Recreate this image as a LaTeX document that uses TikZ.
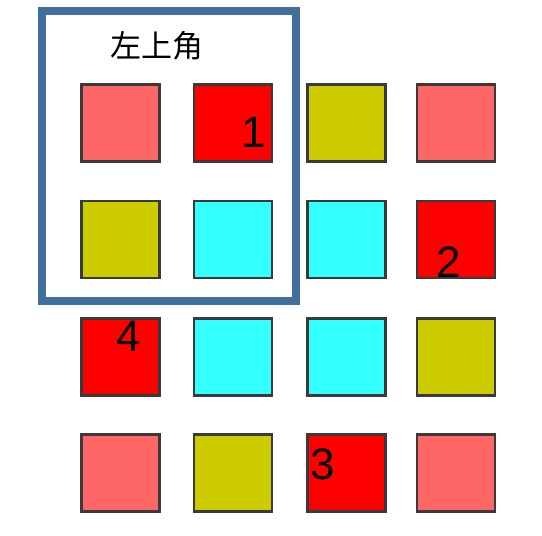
\documentclass[tikz,border=0pt]{standalone}
\usepackage{fontspec}
\setmainfont{Liberation Sans}
\newfontfamily\cjk{Noto Sans CJK SC}
\definecolor{lred}{HTML}{FF6666}
\definecolor{fred}{HTML}{FF0000}
\definecolor{olive2}{HTML}{CCCC00}
\definecolor{cyan2}{HTML}{33FFFF}
\definecolor{frameblue}{HTML}{41709C}
\definecolor{edgegray}{HTML}{3A3A3A}
\begin{document}
\begin{tikzpicture}[x=1pt,y=-1pt,
  sq/.style={draw=edgegray,line width=2.6pt,minimum width=78pt,minimum height=77pt,inner sep=0pt,outer sep=0pt},
  num/.style={inner sep=0pt,font=\fontsize{44}{48}\selectfont},
]
\useasboundingbox (0,0) rectangle (542,536);
\fill[white] (0,0) rectangle (542,536);
% frame
\draw[frameblue,line width=8pt] (42,11) rectangle (296,301);
\node (title) at (157,46) {\cjk\fontsize{31}{34}\selectfont 左上角};
% row 1
\node[sq,fill=lred]   (s11) at (120.5,123) {};
\node[sq,fill=fred]   (s12) at (233,123) {};
\node[sq,fill=olive2] (s13) at (346.5,123) {};
\node[sq,fill=lred]   (s14) at (456,123) {};
% row 2
\node[sq,fill=olive2] (s21) at (120.5,239.5) {};
\node[sq,fill=cyan2]  (s22) at (233,239.5) {};
\node[sq,fill=cyan2]  (s23) at (346.5,239.5) {};
\node[sq,fill=fred]   (s24) at (456,239.5) {};
% row 3
\node[sq,fill=fred]   (s31) at (120.5,357) {};
\node[sq,fill=cyan2]  (s32) at (233,357) {};
\node[sq,fill=cyan2]  (s33) at (346.5,357) {};
\node[sq,fill=olive2] (s34) at (456,357) {};
% row 4
\node[sq,fill=lred]   (s41) at (120.5,473) {};
\node[sq,fill=olive2] (s42) at (233,473) {};
\node[sq,fill=fred]   (s43) at (346.5,473) {};
\node[sq,fill=lred]   (s44) at (456,473) {};
% numbers
\node[num] (n1) at (254,132) {1};
\node[num] (n2) at (449,262) {2};
\node[num] (n3) at (323,464) {3};
\node[num] (n4) at (129,336) {4};
\end{tikzpicture}
\end{document}
